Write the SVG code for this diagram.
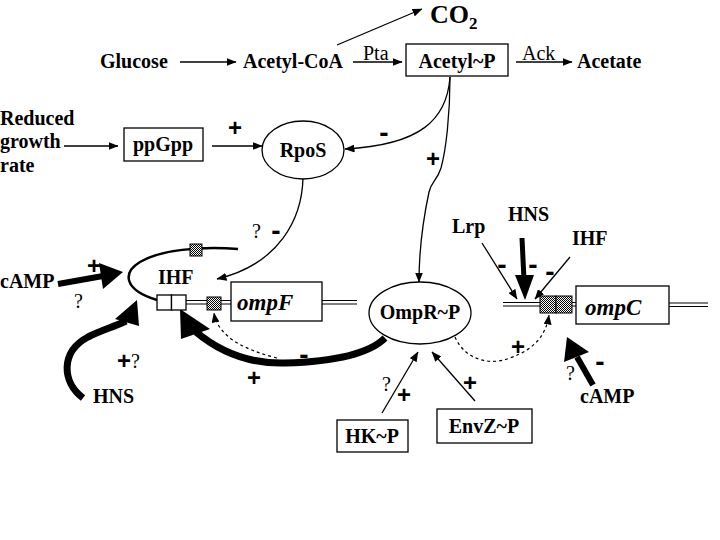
<svg xmlns="http://www.w3.org/2000/svg" width="720" height="540" viewBox="0 0 720 540">
<defs>
<style>
text{font-family:"Liberation Serif","Times New Roman",serif;fill:#000}
.b{font-weight:bold;font-size:20px}
.r{font-size:20px}
.co{font-weight:bold;font-size:26px}
.sub{font-weight:bold;font-size:17px}
.gene{font-weight:bold;font-style:italic;font-size:23px}
.sg{font-family:"Liberation Sans",Arial,sans-serif;font-weight:bold;font-size:24px;text-anchor:middle}
.mn{font-family:"Liberation Sans",Arial,sans-serif;font-weight:bold;font-size:28px;text-anchor:middle}
.box{fill:#fff;stroke:#000;stroke-width:1.3}
.thin{fill:none;stroke:#000;stroke-width:1.3}
.dash{fill:none;stroke:#000;stroke-width:1.2;stroke-dasharray:3,3}
.thick{fill:none;stroke:#000}
.dna{stroke:#000;stroke-width:1}
.mid{text-anchor:middle}
</style>
<pattern id="chk" width="2" height="2" patternUnits="userSpaceOnUse">
<rect width="2" height="2" fill="#fff"/>
<rect width="1" height="1" fill="#000"/>
<rect x="1" y="1" width="1" height="1" fill="#000"/>
</pattern>
<marker id="ah" markerWidth="10" markerHeight="8" refX="9.5" refY="4" orient="auto" markerUnits="userSpaceOnUse">
<path d="M0,0 L10,4 L0,8 z" fill="#000"/>
</marker>
</defs>
<rect width="720" height="540" fill="#fff"/>

<g id="connectors">
<path class="thin" d="M180,62 L236,62" marker-end="url(#ah)"/>
<path class="thin" d="M353,62 L402,62" marker-end="url(#ah)"/>
<path class="thin" d="M516,62 L572,62" marker-end="url(#ah)"/>
<path class="thin" d="M337,45 L422,9" marker-end="url(#ah)"/>
<path class="thin" d="M64,146 L118,146" marker-end="url(#ah)"/>
<path class="thin" d="M212,146 L262,146" marker-end="url(#ah)"/>
<path class="thin" d="M450,77 C447,120 420,145 345,149" marker-end="url(#ah)"/>
<path class="thin" d="M450,77 C450,115 446,150 441,168 C437,181 431,182 429,192 C422,225 419,250 419,282" marker-end="url(#ah)"/>
<path class="thin" d="M303,178 C302,218 280,264 217,279" marker-end="url(#ah)"/>
<path class="thin" d="M482,243 L517,299" marker-end="url(#ah)"/>
<path class="thin" d="M570,257 L535,299" marker-end="url(#ah)"/>
<path class="thin" d="M382,413 L418,352" marker-end="url(#ah)"/>
<path class="thin" d="M475,401 L432,352" marker-end="url(#ah)"/>
<path class="dash" d="M277,358 C245,350 218,337 214,313" marker-end="url(#ah)"/>
<path class="dash" d="M455,337 C465,360 490,366 510,358 C535,349 546,335 549,315" marker-end="url(#ah)"/>
<path class="thick" stroke-width="7" d="M385,338 C366,357 320,362 285,363 C250,364 220,352 196,332"/>
<polygon points="180,309 181,339 210,329" fill="#000"/>
<path class="thick" stroke-width="6" d="M58,284 L103,276"/>
<polygon points="123,272 99,263 103,289" fill="#000"/>
<path class="thick" stroke-width="7" d="M83,398 C62,382 60,352 88,337 C102,330 114,327 126,321"/>
<polygon points="137,300 115,319 139,326" fill="#000"/>
<path class="thick" stroke-width="5" d="M522,238 L524,280"/>
<polygon points="525,300 515,275 534,275" fill="#000"/>
<path class="thick" stroke-width="6" d="M593,385 L577,357"/>
<polygon points="567,337 564,362 589,352" fill="#000"/>
</g>

<g id="glucose"><text class="b" x="100" y="68">Glucose</text></g>
<g id="acetylcoa"><text class="b" x="243" y="68">Acetyl-CoA</text></g>
<g id="pta"><text class="r" x="363" y="60">Pta</text></g>
<g id="co2"><text class="co" x="430" y="23">CO</text><text class="sub" x="469" y="29">2</text></g>
<g id="acetylp"><rect class="box" x="406" y="44" width="102" height="32"/><text class="b mid" x="457" y="68">Acetyl~P</text></g>
<g id="ack"><text class="r" x="522" y="60">Ack</text></g>
<g id="acetate"><text class="b" x="577" y="68">Acetate</text></g>

<g id="reduced"><text class="b" x="0" y="125">Reduced</text><text class="b" x="0" y="148">growth</text><text class="b" x="0" y="172">rate</text></g>
<g id="ppgpp"><rect class="box" x="124" y="128" width="79" height="33"/><text class="b mid" x="163" y="151">ppGpp</text></g>
<g id="rpos"><ellipse cx="303" cy="150" rx="41" ry="29" fill="#fff" stroke="#000" stroke-width="1.3"/><text class="b mid" x="303" y="157">RpoS</text></g>

<g id="ompf-locus">
<path d="M238,249 C200,246 160,250 140,262 C122,273 124,290 157,300" fill="none" stroke="#000" stroke-width="2.5"/>
<rect x="190" y="244" width="12" height="12" fill="url(#chk)" stroke="#000" stroke-width="1"/>
<line class="dna" x1="186" y1="300.5" x2="207" y2="300.5"/><line class="dna" x1="186" y1="304" x2="207" y2="304"/>
<line class="dna" x1="221" y1="300.5" x2="231" y2="300.5"/><line class="dna" x1="221" y1="304" x2="231" y2="304"/>
<line class="dna" x1="322" y1="300.5" x2="357" y2="300.5"/><line class="dna" x1="322" y1="304" x2="357" y2="304"/>
<rect class="box" x="157" y="295" width="14.5" height="15"/><rect class="box" x="171.5" y="295" width="14.5" height="15"/>
<rect x="207" y="297" width="14" height="13" fill="url(#chk)" stroke="#000" stroke-width="1"/>
<rect class="box" x="231" y="282" width="91" height="39"/>
<text class="gene" x="237" y="310">ompF</text>
<text class="b" x="158" y="284">IHF</text>
</g>

<g id="camp-left"><text class="b" x="0" y="288">cAMP</text></g>
<g id="hns-left"><text class="b" x="93" y="403">HNS</text></g>

<g id="omprp"><ellipse cx="420" cy="313" rx="51" ry="31" fill="#fff" stroke="#000" stroke-width="1.3"/><text class="b mid" x="420" y="319">OmpR~P</text></g>

<g id="ompc-locus">
<line class="dna" x1="503" y1="302.5" x2="540" y2="302.5"/><line class="dna" x1="503" y1="306" x2="540" y2="306"/>
<line class="dna" x1="572" y1="302.5" x2="576" y2="302.5"/><line class="dna" x1="572" y1="306" x2="576" y2="306"/>
<line class="dna" x1="669" y1="303" x2="708" y2="303"/><line class="dna" x1="669" y1="306.5" x2="708" y2="306.5"/>
<rect x="540" y="296" width="16" height="17" fill="url(#chk)" stroke="#000" stroke-width="1"/>
<rect x="556" y="296" width="16" height="17" fill="url(#chk)" stroke="#000" stroke-width="1"/>
<rect class="box" x="576" y="286" width="93" height="38"/>
<text class="gene" x="585" y="315">ompC</text>
</g>

<g id="lrp"><text class="b" x="452" y="233">Lrp</text></g>
<g id="hns-right"><text class="b" x="508" y="221">HNS</text></g>
<g id="ihf-right"><text class="b" x="572" y="245">IHF</text></g>
<g id="camp-right"><text class="b" x="580" y="403">cAMP</text></g>
<g id="hkp"><rect class="box" x="337" y="420" width="71" height="32"/><text class="b mid" x="372" y="443">HK~P</text></g>
<g id="envzp"><rect class="box" x="437" y="409" width="95" height="34"/><text class="b mid" x="484" y="433">EnvZ~P</text></g>

<g id="signs">
<text class="sg" x="235" y="136">+</text>
<text class="mn" x="384" y="142">-</text>
<text class="sg" x="433" y="167">+</text>
<text class="r" x="252" y="238">?</text><text class="mn" x="276" y="240">-</text>
<text class="sg" x="94" y="274">+</text>
<text class="r" x="74" y="308">?</text>
<text class="sg" x="124" y="369">+</text><text class="r" x="131" y="368">?</text>
<text class="mn" x="304" y="364">-</text>
<text class="sg" x="254" y="386">+</text>
<text class="mn" x="502" y="274">-</text>
<text class="mn" x="533" y="274">-</text>
<text class="mn" x="550" y="281">-</text>
<text class="sg" x="518" y="355">+</text>
<text class="r" x="566" y="380">?</text>
<text class="mn" x="600" y="371">-</text>
<text class="r" x="382" y="391">?</text>
<text class="sg" x="404" y="403">+</text>
<text class="sg" x="470" y="391">+</text>
</g>
</svg>
